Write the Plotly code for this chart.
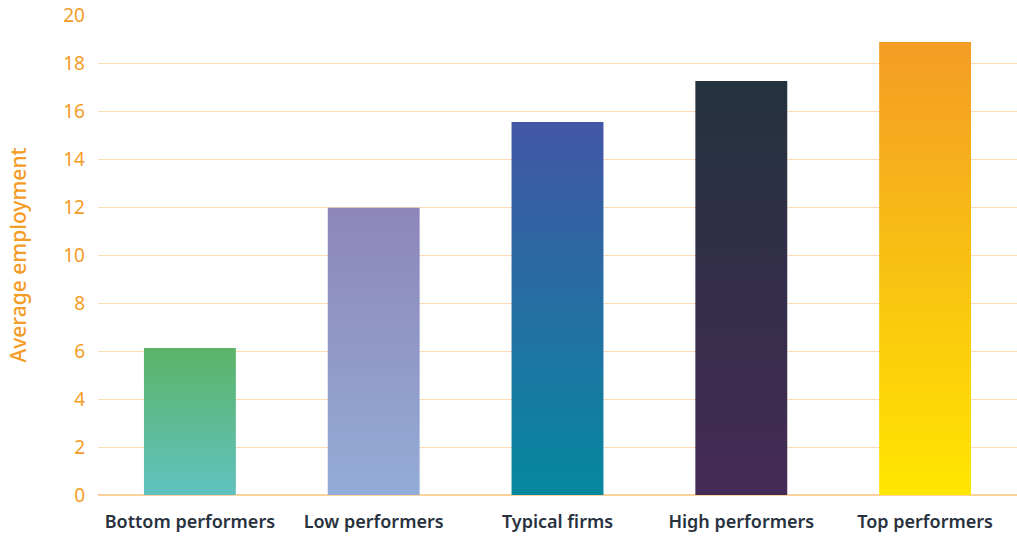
import plotly.graph_objects as go

# Average employment by firm performance group
categories = ["Bottom performers", "Low performers", "Typical firms", "High performers", "Top performers"]
avg_employment = [6.12, 11.97, 15.54, 17.25, 18.87]

# Vertical gradient per bar: (bottom colour, top colour)
bar_gradients = [
    ("#60c2c0", "#5bb467"),
    ("#93acd7", "#8e86b8"),
    ("#06889f", "#4256a6"),
    ("#452a55", "#24323f"),
    ("#ffe600", "#f39c25"),
]

y_ticks = list(range(0, 21, 2))

ORANGE = "#f39c26"
DARK = "#28323e"
FONT = "Noto Sans"
BAR_WIDTH = 0.5

fig = go.Figure()

for i, (name, val, (c_bot, c_top)) in enumerate(zip(categories, avg_employment, bar_gradients)):
    x0, x1 = i - BAR_WIDTH / 2, i + BAR_WIDTH / 2
    fig.add_trace(
        go.Scatter(
            x=[x0, x1, x1, x0, x0],
            y=[0, 0, val, val, 0],
            mode="lines",
            line=dict(width=0),
            fill="toself",
            fillgradient=dict(
                type="vertical",
                start=0,
                stop=val,
                colorscale=[[0, c_bot], [1, c_top]],
            ),
            name=name,
            hoverinfo="skip",
            showlegend=False,
        )
    )

fig.update_layout(
    width=1017,
    height=536,
    margin=dict(l=98, r=0, t=15, b=41),
    paper_bgcolor="white",
    plot_bgcolor="white",
    font=dict(family=FONT),
    xaxis=dict(
        range=[-0.5, len(categories) - 0.5],
        tickmode="array",
        tickvals=list(range(len(categories))),
        ticktext=categories,
        tickfont=dict(family=FONT, size=18, color=DARK, weight=600),
        showgrid=False,
        zeroline=False,
        showline=False,
        ticks="",
        ticklabelstandoff=14,
        fixedrange=True,
    ),
    yaxis=dict(
        range=[0, 20],
        tickmode="array",
        tickvals=y_ticks,
        tickfont=dict(family=FONT, size=19, color=ORANGE),
        showgrid=True,
        gridcolor="#fcdcb4",
        gridwidth=1,
        zeroline=True,
        zerolinecolor="#fbd29c",
        zerolinewidth=2,
        showline=False,
        ticks="",
        ticklabelstandoff=12,
        title=dict(
            text="Average employment",
            font=dict(family=FONT, size=21, color=ORANGE, weight=500),
            standoff=30,
        ),
        fixedrange=True,
    ),
)

fig.write_html("out.html")
